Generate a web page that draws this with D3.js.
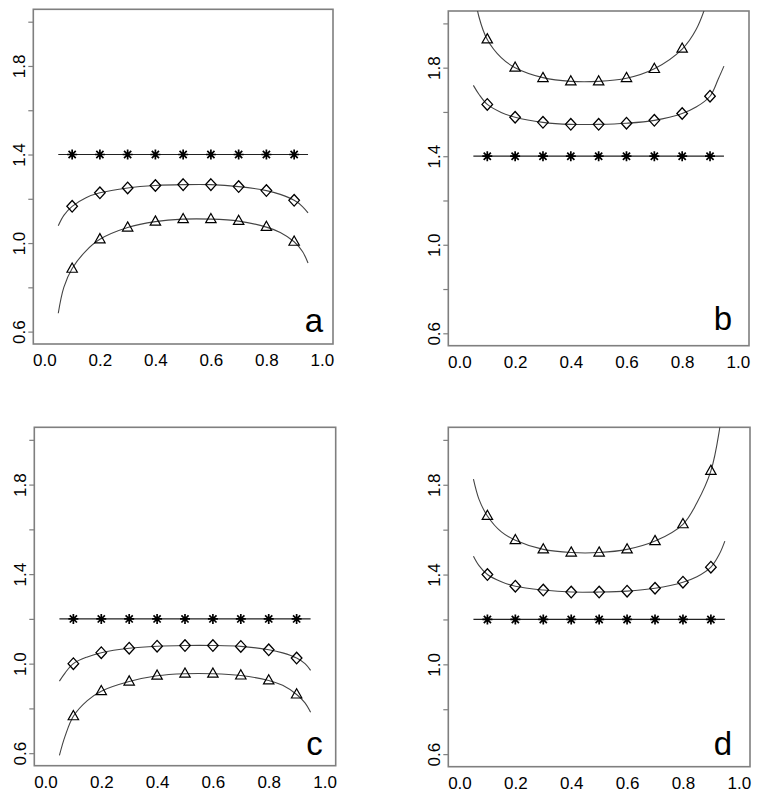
<!DOCTYPE html>
<html>
<head>
<meta charset="utf-8">
<script src="https://cdn.jsdelivr.net/npm/d3@7"></script>
<style>
  html, body { margin: 0; padding: 0; background: #fff; }
  svg { display: block; }
  text { font-family: "Liberation Sans", Arial, sans-serif; fill: #000; }
</style>
</head>
<body>
<svg id="chart" width="762" height="803"></svg>
<script>
// ---------------- data ----------------
const panelNames = ["a", "b", "c", "d"];
const xTicks = [0, 0.2, 0.4, 0.6, 0.8, 1.0];
const xTickLabels = ["0.0", "0.2", "0.4", "0.6", "0.8", "1.0"];
const yTicks = [0.6, 0.8, 1.0, 1.2, 1.4, 1.6, 1.8, 2.0];
const yTickLabels = ["0.6", "", "1.0", "", "1.4", "", "1.8", ""];

const pointX = [0.1, 0.2, 0.3, 0.4, 0.5, 0.6, 0.7, 0.8, 0.9];
const curveX = [0.05, 0.07, 0.1, 0.15, 0.2, 0.3, 0.4, 0.5, 0.6, 0.7, 0.8, 0.85, 0.9, 0.93, 0.95];
const starLineX = [0.05, 0.95];

// star (constant) levels
const starLevel = [1.4, 1.4, 1.2, 1.2];

// panel a
const aDiamondPts = [1.166, 1.227, 1.249, 1.260, 1.264, 1.264, 1.255, 1.237, 1.193];
const aTrianglePts = [0.884, 1.017, 1.070, 1.097, 1.108, 1.108, 1.100, 1.073, 1.006];
const aDiamondCurve = [1.078, 1.125, 1.166, 1.205, 1.227, 1.249, 1.260, 1.264, 1.264, 1.255, 1.237, 1.220, 1.193, 1.165, 1.136];
const aTriangleCurve = [0.683, 0.800, 0.885, 0.965, 1.017, 1.070, 1.097, 1.108, 1.108, 1.099, 1.072, 1.048, 1.006, 0.962, 0.910];

// panel b
const bDiamondPts = [1.634, 1.576, 1.553, 1.544, 1.544, 1.549, 1.562, 1.593, 1.671];
const bTrianglePts = [1.928, 1.800, 1.753, 1.738, 1.738, 1.753, 1.794, 1.886, 2.140];
const bDiamondCurve = [1.720, 1.680, 1.634, 1.598, 1.576, 1.553, 1.544, 1.544, 1.549, 1.562, 1.593, 1.622, 1.671, 1.750, 1.807];
const bTriangleCurve = [2.170, 2.030, 1.927, 1.845, 1.800, 1.755, 1.738, 1.738, 1.752, 1.795, 1.884, 1.972, 2.140, 2.300, 2.450];

// panel c
const cDiamondPts = [1.000, 1.049, 1.069, 1.078, 1.081, 1.081, 1.077, 1.062, 1.025];
const cTrianglePts = [0.765, 0.877, 0.920, 0.946, 0.955, 0.955, 0.947, 0.925, 0.862];
const cDiamondCurve = [0.922, 0.958, 1.000, 1.030, 1.049, 1.069, 1.078, 1.081, 1.081, 1.077, 1.062, 1.048, 1.025, 1.000, 0.970];
const cTriangleCurve = [0.590, 0.675, 0.765, 0.835, 0.877, 0.920, 0.946, 0.955, 0.955, 0.947, 0.925, 0.903, 0.862, 0.825, 0.783];

// panel d
const dDiamondPts = [1.400, 1.348, 1.331, 1.322, 1.322, 1.326, 1.339, 1.366, 1.433];
const dTrianglePts = [1.661, 1.553, 1.512, 1.498, 1.498, 1.512, 1.549, 1.624, 1.862];
const dDiamondCurve = [1.482, 1.440, 1.400, 1.368, 1.348, 1.331, 1.322, 1.322, 1.326, 1.339, 1.366, 1.390, 1.433, 1.490, 1.549];
const dTriangleCurve = [1.825, 1.735, 1.661, 1.590, 1.553, 1.512, 1.498, 1.498, 1.512, 1.549, 1.624, 1.720, 1.862, 2.040, 2.250];

const diamondPts = [aDiamondPts, bDiamondPts, cDiamondPts, dDiamondPts];
const trianglePts = [aTrianglePts, bTrianglePts, cTrianglePts, dTrianglePts];
const diamondCurves = [aDiamondCurve, bDiamondCurve, cDiamondCurve, dDiamondCurve];
const triangleCurves = [aTriangleCurve, bTriangleCurve, cTriangleCurve, dTriangleCurve];

// ---------------- layout ----------------
const boxes = [
  { l: 33.3, r: 333.0, t: 9.3,   b: 344.0, lx: 10, ly: 12 },
  { l: 448.3, r: 749.0, t: 11.0, b: 345.7, lx: 17, ly: 16 },
  { l: 34.3, r: 335.7, t: 427.3, b: 765.7, lx: 13, ly: 11 },
  { l: 448.3, r: 750.0, t: 427.3, b: 766.7, lx: 18, ly: 12 }
];
const xDomain = [-0.04, 1.04];
const yDomain = [0.6 - 0.056, 2.0 + 0.056];

const svg = d3.select("#chart");
const boxColor = "#7f7f7f";

function trianglePath() {
  const w = 5.2, h = 9.2;
  return `M0,${-h * 0.62}L${w},${h * 0.38}L${-w},${h * 0.38}Z`;
}
function diamondPath() {
  const w = 5.3, h = 5.8;
  return `M0,${-h}L${w},0L0,${h}L${-w},0Z`;
}
function starPath() {
  const a = 5.0, d = 3.6;
  return `M0,${-a}V${a}M${-a},0H${a}M${-d},${-d}L${d},${d}M${-d},${d}L${d},${-d}`;
}

boxes.forEach((bx, i) => {
  const x = d3.scaleLinear().domain(xDomain).range([bx.l, bx.r]);
  const y = d3.scaleLinear().domain(yDomain).range([bx.b, bx.t]);
  const g = svg.append("g");

  const clipId = "clip" + i;
  svg.append("defs").append("clipPath").attr("id", clipId)
    .append("rect").attr("x", bx.l).attr("y", bx.t)
    .attr("width", bx.r - bx.l).attr("height", bx.b - bx.t);

  // x axis (labels only)
  const xAxis = d3.axisBottom(x).tickValues(xTicks)
    .tickFormat((d, k) => xTickLabels[k]).tickSize(0).tickSizeOuter(0);
  const gx = g.append("g").attr("transform", `translate(0,${bx.b})`).call(xAxis);
  gx.select(".domain").remove();
  gx.selectAll(".tick line").remove();
  gx.selectAll(".tick text").attr("font-size", 17).attr("dy", null).attr("y", 22)
    .attr("fill", "#111").style("font-family", "'Liberation Sans', Arial, sans-serif");

  // y axis
  const yAxis = d3.axisLeft(y).tickValues(yTicks)
    .tickFormat((d, k) => yTickLabels[k]).tickSize(5).tickSizeOuter(0);
  const gy = g.append("g").attr("transform", `translate(${bx.l},0)`).call(yAxis);
  gy.select(".domain").remove();
  gy.selectAll(".tick line").attr("stroke", boxColor).attr("stroke-width", 1.2);
  gy.selectAll(".tick text").attr("font-size", 17)
    .attr("x", null).attr("dy", null)
    .attr("text-anchor", "middle")
    .attr("transform", "translate(-14,0) rotate(-90)")
    .attr("y", 0).attr("dominant-baseline", "central")
    .attr("fill", "#111").style("font-family", "'Liberation Sans', Arial, sans-serif");

  // box
  g.append("rect").attr("x", bx.l).attr("y", bx.t)
    .attr("width", bx.r - bx.l).attr("height", bx.b - bx.t)
    .attr("fill", "none").attr("stroke", boxColor).attr("stroke-width", 1.6);

  const plot = g.append("g").attr("clip-path", `url(#${clipId})`);

  const line = d3.line().x(d => x(d[0])).y(d => y(d[1])).curve(d3.curveCatmullRom.alpha(0.5));

  // star horizontal line
  plot.append("path")
    .datum(starLineX.map(v => [v, starLevel[i]]))
    .attr("d", d3.line().x(d => x(d[0])).y(d => y(d[1])))
    .attr("fill", "none").attr("stroke", "#222").attr("stroke-width", 1.2);

  // curves
  [diamondCurves[i], triangleCurves[i]].forEach(c => {
    plot.append("path")
      .datum(curveX.map((v, k) => [v, c[k]]))
      .attr("d", line)
      .attr("fill", "none").attr("stroke", "#444").attr("stroke-width", 1.1);
  });

  // markers
  plot.selectAll(".star").data(pointX).enter().append("path")
    .attr("transform", d => `translate(${x(d)},${y(starLevel[i])})`)
    .attr("d", starPath()).attr("fill", "none").attr("stroke", "#000").attr("stroke-width", 1.7);

  plot.selectAll(".dia").data(pointX.map((v, k) => [v, diamondPts[i][k]])).enter().append("path")
    .attr("transform", d => `translate(${x(d[0])},${y(d[1])})`)
    .attr("d", diamondPath()).attr("fill", "none").attr("stroke", "#000").attr("stroke-width", 1.3);

  plot.selectAll(".tri").data(pointX.map((v, k) => [v, trianglePts[i][k]])).enter().append("path")
    .attr("transform", d => `translate(${x(d[0])},${y(d[1])})`)
    .attr("d", trianglePath()).attr("fill", "none").attr("stroke", "#000").attr("stroke-width", 1.2);

  // panel letter
  g.append("text").attr("x", bx.r - bx.lx).attr("y", bx.b - bx.ly)
    .attr("text-anchor", "end").attr("font-size", 33)
    .text(panelNames[i]);
});
</script>
</body>
</html>
